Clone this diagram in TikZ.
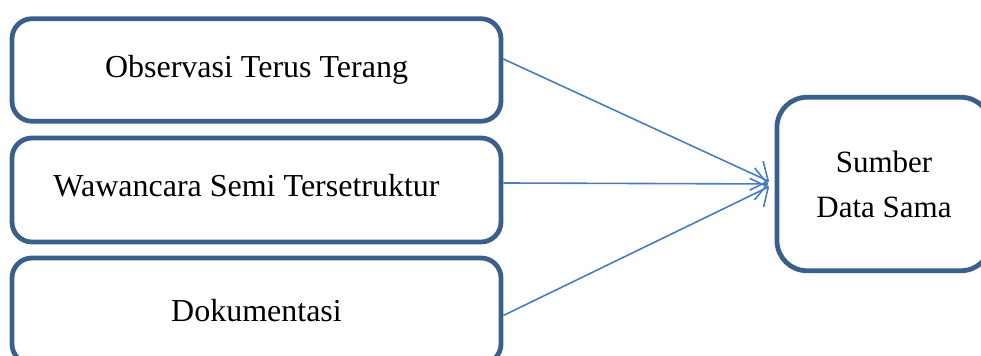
\documentclass[tikz,border=0pt]{standalone}
\usepackage{fontspec}
\setmainfont{Liberation Serif}
\usepackage{tikz}
\usetikzlibrary{arrows.meta}
\definecolor{boxblue}{HTML}{3A5F8B}
\definecolor{lineblue}{HTML}{4A7EBB}

\begin{document}
\begin{tikzpicture}[x=0.5pt, y=-0.5pt,
  boxes/.style={draw=boxblue, line width=2.4pt, rounded corners=10pt,
    minimum width=244.5pt, inner sep=0pt,
    font=\fontsize{16}{22.5}\selectfont},
  paths/.style={-{Straight Barb[length=6.5pt, width=16pt]}, draw=lineblue,
    line width=0.8pt, shorten >=3pt}]

 \useasboundingbox (0,0) rectangle (981,356);

 \node[boxes, minimum height=51.25pt] (method_1) at (256.5,70)
     {\raisebox{-3pt}{Observasi Terus Terang}};

 \node[boxes, minimum height=52pt] (method_2) at (256.5,190)
     {\hspace*{-10pt}\raisebox{5pt}{Wawancara Semi Tersetruktur}};

 \node[boxes, minimum height=53pt] (method_3) at (256.5,311)
     {\raisebox{1pt}{Dokumentasi}};

 \node[boxes, minimum width=107pt, minimum height=86.75pt,
       rounded corners=15pt, align=center,
       font=\fontsize{15.5}{22.5}\selectfont] (source) at (884,184)
     {\raisebox{-2pt}{Sumber}\\\raisebox{-2pt}{Data Sama}};


 \draw [paths] ([yshift=5.5pt]method_1.east) -- (source.west);
 \draw [paths] ([yshift=3.5pt]method_2.east) -- (source.west);
 \draw [paths] ([yshift=-2.25pt]method_3.east) -- (source.west);


\end{tikzpicture}
\end{document}
